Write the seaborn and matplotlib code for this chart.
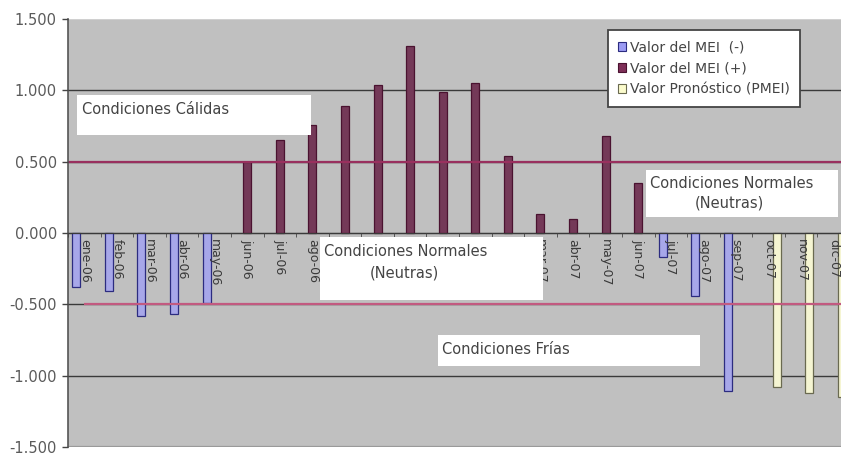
import matplotlib
matplotlib.use("Agg")
import matplotlib.pyplot as plt
import seaborn as sns
import pandas as pd
import numpy as np
from matplotlib.patches import Rectangle, Patch

# Monthly MEI values and PMEI forecast
months = ["ene-06", "feb-06", "mar-06", "abr-06", "may-06", "jun-06",
          "jul-06", "ago-06", "sep-06", "oct-06", "nov-06", "dic-06",
          "ene-07", "feb-07", "mar-07", "abr-07", "may-07", "jun-07",
          "jul-07", "ago-07", "sep-07", "oct-07", "nov-07", "dic-07"]
nan = np.nan
mei_neg = [-0.38, -0.41, -0.58, -0.57, -0.49, nan, nan, nan, nan, nan, nan, nan,
           nan, nan, nan, nan, nan, nan, -0.17, -0.44, -1.11, nan, nan, nan]
mei_pos = [nan, nan, nan, nan, nan, 0.50, 0.65, 0.76, 0.89, 1.04, 1.31, 0.99,
           1.05, 0.54, 0.13, 0.10, 0.68, 0.35, nan, nan, nan, nan, nan, nan]
pmei = [nan] * 21 + [-1.08, -1.12, -1.15]

series = ["Valor del MEI  (-)", "Valor del MEI (+)", "Valor Pronóstico (PMEI)"]
fills = ["#9c9cf4", "#7e2f58", "#fbfbcc"]
edges = ["#2c2c80", "#4a1230", "#6a6a50"]

warm_limit = 0.5
cold_limit = -0.5
y_ticks = [-1.5, -1.0, -0.5, 0.0, 0.5, 1.0, 1.5]
y_labels = ["-1.500", "-1.000", "-0.500", "0.000", "0.500", "1.000", "1.500"]

rows = []
for name, vals in zip(series, [mei_neg, mei_pos, pmei]):
    for m, v in zip(months, vals):
        if not np.isnan(v):
            rows.append({"mes": m, "serie": name, "valor": v})
df = pd.DataFrame(rows)

W, H = 841, 453
fig = plt.figure(figsize=(W / 100, H / 100), dpi=100)
fig.patch.set_facecolor("white")
ax = fig.add_axes([68 / W, 6 / H, (850 - 68) / W, (447 - 19) / H])
ax.set_facecolor("#c0c0c0")

sns.barplot(data=df, x="mes", y="valor", hue="serie", order=months,
            hue_order=series, palette=dict(zip(series, fills)), dodge=True,
            width=0.74, errorbar=None, legend=False, ax=ax, zorder=1)
for cont, ec in zip(ax.containers, edges):
    for bar in cont:
        bar.set_edgecolor(ec)
        bar.set_linewidth(0.9)

ax.set_ylim(-1.5, 1.5)
ax.set_xlim(-0.5, len(months) - 0.5)
# horizontal gridlines (the top edge stays light, the bottom edge is a soft gray)
for y in y_ticks[1:-1]:
    ax.axhline(y, color="#3a3a3a", lw=1.0, zorder=0.5)
ax.axhline(y_ticks[0], color="#9a9a9a", lw=1.6, zorder=0.5)
ax.axhline(y_ticks[-1], color="#d4d4d4", lw=1.2, zorder=0.5)
ax.axhline(warm_limit, color="#99305e", lw=1.6, zorder=2)
ax.hlines(cold_limit, 0, len(months) - 0.5, color="#c25a80", lw=1.6, zorder=2)

ax.set_axisbelow(False)
ax.set_yticks(y_ticks)
ax.set_yticklabels(y_labels)
ax.tick_params(axis="y", length=4, width=1, color="#444", labelsize=10.5,
               labelcolor="#5a5a5a", pad=4)
ax.spines["bottom"].set_position(("data", 0))
ax.spines["bottom"].set_color("#3a3a3a")
ax.spines["left"].set_color("#555")
ax.spines["left"].set_linewidth(1.2)
ax.spines["top"].set_visible(False)
ax.spines["right"].set_visible(False)
ax.set_xticks(range(len(months)))
ax.set_xticklabels(months, rotation=270, ha="center", va="top")
ax.set_xticks(np.arange(-0.5, len(months), 1), minor=True)
ax.tick_params(axis="x", which="major", length=0, labelsize=9,
               labelcolor="#3a3a3a", pad=4)
ax.tick_params(axis="x", which="minor", length=3, color="#444")
ax.set_xlabel("")
ax.set_ylabel("")

handles = [Patch(facecolor=f, edgecolor=e, lw=0.8) for f, e in zip(fills, edges)]
leg = ax.legend(handles, series, loc="upper left",
                bbox_to_anchor=(608 / W, 1 - 30 / H), bbox_transform=fig.transFigure,
                fontsize=10, frameon=True, fancybox=False, framealpha=1,
                borderaxespad=0, handlelength=0.55, handleheight=0.55,
                handletextpad=0.25, labelspacing=0.5, borderpad=0.75)
leg.get_frame().set_edgecolor("#444")
leg.get_frame().set_linewidth(1.3)
for t in leg.get_texts():
    t.set_color("#444")


def label_box(x0, y0, x1, y1):
    fig.add_artist(Rectangle((x0 / W, 1 - y1 / H), (x1 - x0) / W, (y1 - y0) / H,
                             transform=fig.transFigure, facecolor="white",
                             edgecolor="none", zorder=3))


def label_text(x, y, s, ha="left"):
    fig.text(x / W, 1 - y / H, s, ha=ha, va="center", fontsize=10.5,
             color="#444", zorder=4)


label_box(77, 95, 311, 135)
label_text(82, 109, "Condiciones Cálidas")
label_box(320, 237, 543, 300)
label_text(406, 251, "Condiciones Normales", ha="center")
label_text(404, 273, "(Neutras)", ha="center")
label_box(646, 170, 838, 217)
label_text(732, 183, "Condiciones Normales", ha="center")
label_text(729, 203, "(Neutras)", ha="center")
label_box(438, 335, 700, 366)
label_text(442, 350, "Condiciones Frías")

fig.savefig("out.png", dpi=100)
